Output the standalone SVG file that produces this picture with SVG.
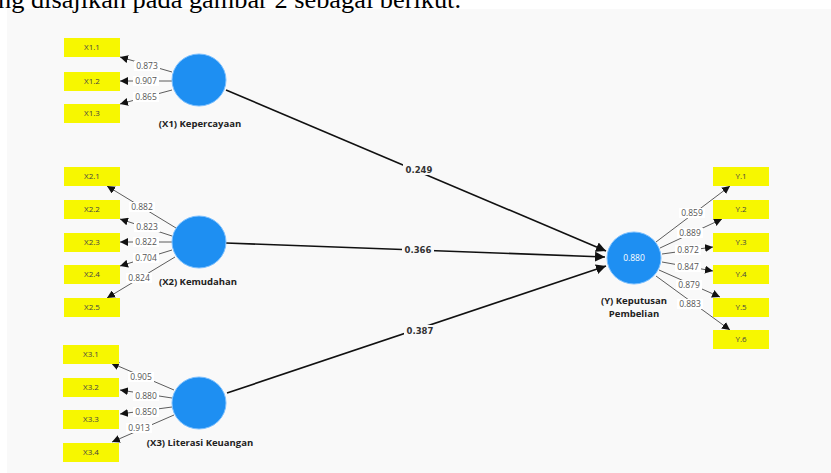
<svg xmlns="http://www.w3.org/2000/svg" width="831" height="473" viewBox="0 0 831 473">
<defs>
<marker id="ah" viewBox="0 0 10 10" refX="10" refY="5" markerWidth="10" markerHeight="10" markerUnits="userSpaceOnUse" orient="auto"><path d="M0,0 L10,5 L0,10 z" fill="#111"/></marker>
<marker id="ahs" viewBox="0 0 10 10" refX="10" refY="5" markerWidth="8" markerHeight="8" markerUnits="userSpaceOnUse" orient="auto"><path d="M0,0 L10,5 L0,10 z" fill="#111"/></marker>
</defs>
<style>
.ind rect{fill:#f7f700}
.ind text{font-family:"Open Sans","Noto Sans",sans-serif;font-size:8px;fill:#444;text-anchor:middle}
.lv ellipse{fill:#1e8ff2;stroke:#7cc0ff;stroke-width:1}
.lv text{font-family:"Open Sans","Noto Sans",sans-serif;font-size:9.5px;font-weight:bold;fill:#222;text-anchor:middle}
.lv text.in{fill:#fff;font-weight:normal;font-size:8.5px}
.ld{stroke:#333;stroke-width:0.8;fill:none;marker-end:url(#ahs)}
.pt{stroke:#111;stroke-width:1.6;fill:none;marker-end:url(#ah)}
.ll rect{fill:#fff}
.ll text{font-family:"Open Sans","Noto Sans",sans-serif;font-size:8.5px;fill:#555;text-anchor:middle}
.pl rect{fill:#f9f9f9}
.pl text{font-family:"DejaVu Sans",sans-serif;font-size:8.5px;font-weight:bold;fill:#333;text-anchor:middle}
</style>
<rect x="0" y="0" width="831" height="473" fill="#fff"/>
<rect x="7" y="9" width="824" height="464" fill="#f9f9f9"/>
<text x="-2" y="8" font-family="Liberation Serif,serif" font-size="25" textLength="463" lengthAdjust="spacingAndGlyphs" fill="#000">ng disajikan pada gambar 2 sebagai berikut.</text>

<g id="connectors">
<line class="pt" x1="226" y1="90" x2="606" y2="251"/>
<line class="pt" x1="226" y1="243" x2="605" y2="257"/>
<line class="pt" x1="227" y1="393" x2="606" y2="266"/>
<line class="ld" x1="172" y1="72" x2="120" y2="57"/>
<line class="ld" x1="172" y1="81" x2="120" y2="81"/>
<line class="ld" x1="172" y1="90" x2="120" y2="104"/>
<line class="ld" x1="176" y1="228" x2="107" y2="186"/>
<line class="ld" x1="172" y1="236" x2="120" y2="219"/>
<line class="ld" x1="172" y1="242" x2="120" y2="242"/>
<line class="ld" x1="172" y1="250" x2="120" y2="266"/>
<line class="ld" x1="175" y1="257" x2="107" y2="298"/>
<line class="ld" x1="174" y1="390" x2="111" y2="363"/>
<line class="ld" x1="172" y1="398" x2="120" y2="390"/>
<line class="ld" x1="172" y1="407" x2="120" y2="414"/>
<line class="ld" x1="174" y1="415" x2="112" y2="442"/>
<line class="ld" x1="656" y1="242" x2="730" y2="186"/>
<line class="ld" x1="660" y1="248" x2="722" y2="219"/>
<line class="ld" x1="662" y1="254" x2="713" y2="247"/>
<line class="ld" x1="662" y1="262" x2="713" y2="271"/>
<line class="ld" x1="659" y1="270" x2="720" y2="297"/>
<line class="ld" x1="656" y1="276" x2="730" y2="330"/>

<g class="pl">
<rect x="403" y="164" width="32" height="11"/><text x="419" y="173">0.249</text>
<rect x="402" y="244" width="32" height="11"/><text x="418" y="253">0.366</text>
<rect x="404" y="325" width="32" height="11"/><text x="420" y="334">0.387</text>
</g>
<g class="ll">
<rect x="134" y="61" width="26" height="10"/><text x="147" y="69">0.873</text>
<rect x="133" y="76" width="26" height="10"/><text x="146" y="84">0.907</text>
<rect x="133" y="92" width="26" height="10"/><text x="146" y="100">0.865</text>
<rect x="129" y="202" width="26" height="10"/><text x="142" y="210">0.882</text>
<rect x="134" y="222" width="26" height="10"/><text x="147" y="230">0.823</text>
<rect x="133" y="237" width="26" height="10"/><text x="146" y="245">0.822</text>
<rect x="133" y="253" width="26" height="10"/><text x="146" y="261">0.704</text>
<rect x="126" y="273" width="26" height="10"/><text x="139" y="281">0.824</text>
<rect x="128" y="372" width="26" height="10"/><text x="141" y="380">0.905</text>
<rect x="133" y="391" width="26" height="10"/><text x="146" y="399">0.880</text>
<rect x="133" y="407" width="26" height="10"/><text x="146" y="415">0.850</text>
<rect x="126" y="423" width="26" height="10"/><text x="139" y="431">0.913</text>
<rect x="679" y="208" width="26" height="10"/><text x="692" y="216">0.859</text>
<rect x="677" y="228" width="26" height="10"/><text x="690" y="236">0.889</text>
<rect x="675" y="245" width="26" height="10"/><text x="688" y="253">0.872</text>
<rect x="675" y="262" width="26" height="10"/><text x="688" y="270">0.847</text>
<rect x="676" y="280" width="26" height="10"/><text x="689" y="288">0.879</text>
<rect x="677" y="299" width="26" height="10"/><text x="690" y="307">0.883</text>
</g>
</g>

<g id="X1" class="lv"><ellipse cx="199" cy="80" rx="27" ry="26"/><text x="200" y="127">(X1) Kepercayaan</text></g>
<g id="X2" class="lv"><ellipse cx="199" cy="242" rx="27" ry="26"/><text x="198" y="285">(X2) Kemudahan</text></g>
<g id="X3" class="lv"><ellipse cx="199" cy="403" rx="27" ry="26"/><text x="200" y="446">(X3) Literasi Keuangan</text></g>
<g id="Y" class="lv"><ellipse cx="634" cy="258" rx="27" ry="26"/><text class="in" x="634" y="261">0.880</text><text x="634" y="304">(Y) Keputusan</text><text x="634" y="317">Pembelian</text></g>

<g id="X1.1" class="ind"><rect x="64" y="38" width="56" height="19"/><text x="92" y="50">X1.1</text></g>
<g id="X1.2" class="ind"><rect x="64" y="72" width="56" height="19"/><text x="92" y="84">X1.2</text></g>
<g id="X1.3" class="ind"><rect x="64" y="104" width="56" height="19"/><text x="92" y="116">X1.3</text></g>
<g id="X2.1" class="ind"><rect x="64" y="167" width="56" height="19"/><text x="92" y="179">X2.1</text></g>
<g id="X2.2" class="ind"><rect x="64" y="200" width="56" height="19"/><text x="92" y="212">X2.2</text></g>
<g id="X2.3" class="ind"><rect x="64" y="233" width="56" height="19"/><text x="92" y="245">X2.3</text></g>
<g id="X2.4" class="ind"><rect x="64" y="265" width="56" height="19"/><text x="92" y="277">X2.4</text></g>
<g id="X2.5" class="ind"><rect x="64" y="298" width="56" height="19"/><text x="92" y="310">X2.5</text></g>
<g id="X3.1" class="ind"><rect x="63" y="345" width="56" height="19"/><text x="91" y="357">X3.1</text></g>
<g id="X3.2" class="ind"><rect x="63" y="378" width="56" height="19"/><text x="91" y="390">X3.2</text></g>
<g id="X3.3" class="ind"><rect x="63" y="410" width="56" height="19"/><text x="91" y="422">X3.3</text></g>
<g id="X3.4" class="ind"><rect x="63" y="443" width="56" height="19"/><text x="91" y="455">X3.4</text></g>
<g id="Y.1" class="ind"><rect x="713" y="167" width="56" height="19"/><text x="741" y="179">Y.1</text></g>
<g id="Y.2" class="ind"><rect x="713" y="200" width="56" height="19"/><text x="741" y="212">Y.2</text></g>
<g id="Y.3" class="ind"><rect x="713" y="233" width="56" height="19"/><text x="741" y="245">Y.3</text></g>
<g id="Y.4" class="ind"><rect x="713" y="265" width="56" height="19"/><text x="741" y="277">Y.4</text></g>
<g id="Y.5" class="ind"><rect x="713" y="298" width="56" height="19"/><text x="741" y="310">Y.5</text></g>
<g id="Y.6" class="ind"><rect x="713" y="330" width="56" height="19"/><text x="741" y="342">Y.6</text></g>
</svg>
